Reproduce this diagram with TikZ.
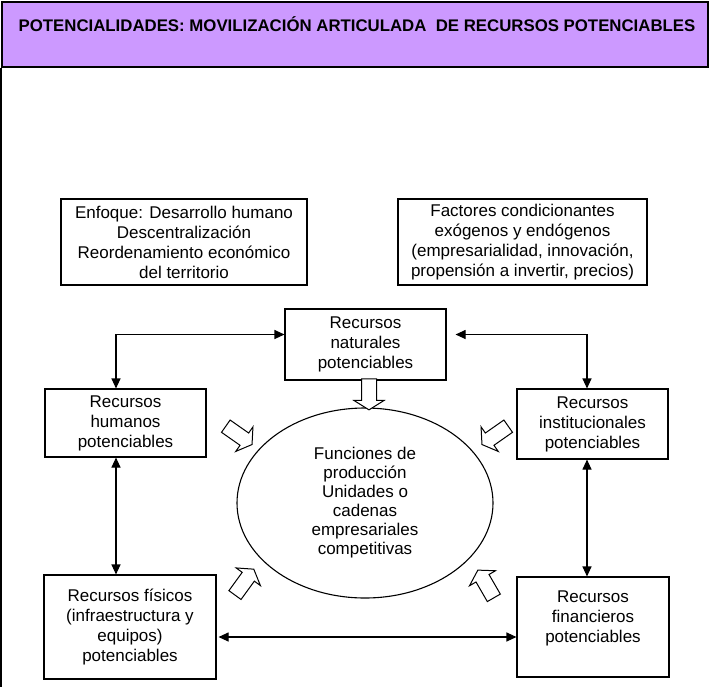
\documentclass[tikz,border=0pt]{standalone}
\usepackage{fontspec}
\setmainfont{Liberation Sans}
\usetikzlibrary{shapes.geometric,shapes.arrows,arrows.meta,calc}
\definecolor{bandlila}{RGB}{204,153,255}
\begin{document}
\begin{tikzpicture}[x=1pt,y=-1pt,
  every node/.style={font=\fontsize{17}{20}\selectfont, inner sep=0pt, align=center},
  box/.style={draw, line width=1.1pt, fill=white},
  link/.style={line width=1.1pt, {Triangle[length=10pt,width=9pt]}-{Triangle[length=10pt,width=9pt]}},
  hollow/.style={draw, line width=1pt, fill=white, shape=single arrow,
    minimum height=31pt, inner xsep=0pt, inner ysep=7pt,
    single arrow head extend=7.5pt, single arrow tip angle=116}
]
\useasboundingbox (0,0) rectangle (709,686);

% title band and page frame
\node[draw, line width=1.5pt, fill=bandlila, minimum width=706pt, minimum height=65pt,
  anchor=north west] (band) at (1,1) {};
\node[font=\bfseries\fontsize{16.8}{20}\selectfont, anchor=base] (title) at (357,31)
  {POTENCIALIDADES: MOVILIZACIÓN ARTICULADA \ DE RECURSOS POTENCIABLES};
\draw[line width=1.5pt] (band.south west) -- ($(band.south west)+(0,620)$);

% context boxes
\node[box, minimum width=246pt, minimum height=86pt] (enf) at (184,242)
  {Enfoque: Desarrollo humano\\Descentralización\\Reordenamiento económico\\del territorio};
\node[box, minimum width=249pt, minimum height=86pt] (fac) at (522.5,242)
  {Factores condicionantes\\exógenos y endógenos\\(empresarialidad, innovación,\\propensión a invertir, precios)};

% resources
\node[box, minimum width=161pt, minimum height=71pt] (nat) at (365.5,344.5)
  {Recursos\\naturales\\potenciables};
\node[box, minimum width=161pt, minimum height=68pt] (hum) at (125.5,423)
  {Recursos\\humanos\\potenciables};
\node[box, minimum width=151pt, minimum height=70pt] (inst) at (592.5,424)
  {Recursos\\institucionales\\potenciables};
\node[box, minimum width=172pt, minimum height=104pt] (fis) at (130,627)
  {Recursos físicos\\(infraestructura y\\equipos)\\potenciables};
\node[box, minimum width=152pt, minimum height=100pt] (fin) at (593,627)
  {Recursos\\financieros\\potenciables\\\mbox{}};

% production core
\node[draw, line width=1.1pt, ellipse, minimum width=256pt, minimum height=190pt,
  font=\fontsize{17}{19}\selectfont] (core) at (365,503)
  {Funciones de\\producción\\Unidades o\\cadenas\\empresariales\\competitivas};

% hollow arrows feeding the core
\node[hollow, rotate=-90] (anat) at (369,392) {};
\node[hollow, rotate=-35, minimum height=32pt] (ahum) at (237,434) {};
\node[hollow, rotate=215, minimum height=32pt] (ainst) at (497,434) {};
\node[hollow, rotate=54, minimum height=32pt] (afis) at (243,584) {};
\node[hollow, rotate=120, minimum height=32pt] (afin) at (487,586) {};

% links between resources
\draw[link] ($(hum.north)+(-9.5,0)$) |- ($(nat.west)+(0,-10)$);
\draw[link] ($(inst.north)+(-5.5,0)$) |- ($(nat.east)+(9,-10)$);
\draw[link] ($(hum.south)+(-9.5,0)$) -- ($(fis.north)+(-14,0)$);
\draw[link] ($(inst.south)+(-5.5,0)$) -- ($(fin.north)+(-6,0)$);
\draw[link] ($(fis.east)+(2,10)$) -- ($(fin.west)+(0,10)$);
\end{tikzpicture}
\end{document}
